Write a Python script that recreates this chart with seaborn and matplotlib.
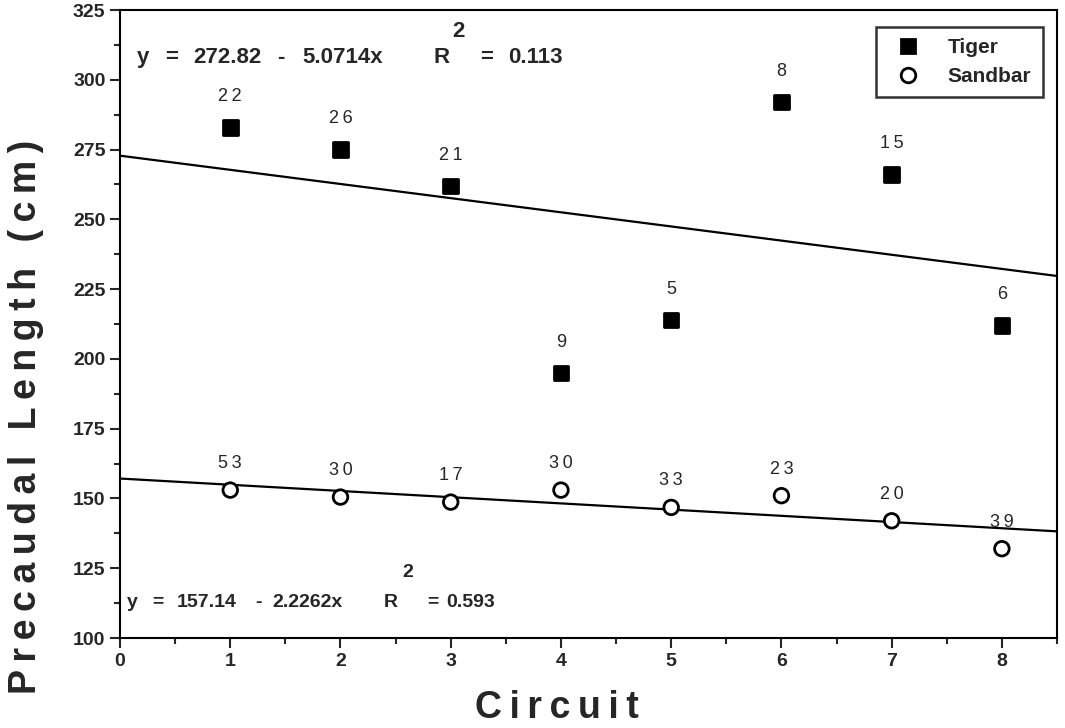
import matplotlib
matplotlib.use("Agg")
import matplotlib.pyplot as plt
from matplotlib.ticker import MultipleLocator
import numpy as np
import pandas as pd
import seaborn as sns

circuits = [1, 2, 3, 4, 5, 6, 7, 8]
tiger_len = [283, 275, 262, 195, 214, 292, 266, 212]
tiger_n = [22, 26, 21, 9, 5, 8, 15, 6]
sandbar_len = [153, 150.5, 148.7, 153, 146.8, 151, 142, 132]
sandbar_n = [53, 30, 17, 30, 33, 23, 20, 39]

tiger_fit = (272.82, -5.0714, 0.113)
sandbar_fit = (157.14, -2.2262, 0.593)

sns.set_theme(style="ticks")
plt.rcParams['font.family'] = ['Liberation Sans', 'DejaVu Sans']

df = pd.DataFrame({
    "Circuit": circuits * 2,
    "Length": tiger_len + sandbar_len,
    "Species": ["Tiger"] * 8 + ["Sandbar"] * 8,
})

fig = plt.figure(figsize=(10.65, 7.28), dpi=100)
ax = fig.add_axes([0.1127, 0.1236, 0.8798, 0.8626])

xs = np.array([0.0, 8.5])
for b0, b1, _ in (tiger_fit, sandbar_fit):
    sns.lineplot(x=xs, y=b0 + b1 * xs, ax=ax, color="black", linewidth=1.6)

sns.scatterplot(data=df, x="Circuit", y="Length", hue="Species", style="Species",
                markers={"Tiger": "s", "Sandbar": "o"},
                palette={"Tiger": "black", "Sandbar": "white"},
                s=110, edgecolor="black", linewidth=2, ax=ax, zorder=5)

TS = "\u2009"
def spaced(s):
    return TS.join(s)

for x, y, n in zip(circuits, tiger_len, tiger_n):
    ax.text(x, y + 8, spaced(str(n)), ha="center", va="bottom", fontsize=13)
for x, y, n in zip(circuits, sandbar_len, sandbar_n):
    ax.text(x, y + 6.5, spaced(str(n)), ha="center", va="bottom", fontsize=13)

ax.set_xlim(0, 8.5)
ax.set_ylim(100, 325)
ax.xaxis.set_major_locator(MultipleLocator(1))
ax.xaxis.set_minor_locator(MultipleLocator(0.5))
ax.yaxis.set_major_locator(MultipleLocator(25))
ax.yaxis.set_minor_locator(MultipleLocator(12.5))
ax.tick_params(which="major", length=7, width=1.5, labelsize=14)
ax.tick_params(which="minor", length=4, width=1.5)
for lab in ax.get_xticklabels() + ax.get_yticklabels():
    lab.set_fontweight("bold")
for sp in ax.spines.values():
    sp.set_linewidth(1.5)
    sp.set_color("black")

ax.set_xlabel(spaced("Circuit"), fontsize=27, fontweight="bold")
ax.xaxis.set_label_coords(0.466, -0.082)
ax.set_ylabel(spaced("Precaudal Length (cm)"), fontsize=27, fontweight="bold")
ax.yaxis.set_label_coords(-0.081, 0.352)

def put(tokens, y, ysup, size):
    for x, s in tokens:
        yy = ysup if s == "2" else y
        ax.text(x, yy, s, fontsize=size, fontweight="bold", ha="left", va="center")

put([(0.155, "y"), (0.41, "="), (0.664, "%.2f" % tiger_fit[0]), (1.427, "-"),
     (1.655, "%.4fx" % -tiger_fit[1]), (2.845, "R"), (3.018, "2"), (3.27, "="),
     (3.518, "%.3f" % tiger_fit[2])], 308, 317.2, 16)
put([(0.064, "y"), (0.291, "="), (0.518, "%.2f" % sandbar_fit[0]), (1.227, "-"),
     (1.382, "%.4fx" % -sandbar_fit[1]), (2.39, "R"), (2.564, "2"), (2.79, "="),
     (2.955, "%.3f" % sandbar_fit[2])], 112.9, 123.3, 14)

leg = ax.legend(loc="upper right", bbox_to_anchor=(0.985, 0.973), fontsize=15,
                frameon=True, fancybox=False, edgecolor="black", borderpad=0.55,
                borderaxespad=0, handletextpad=0.9, labelspacing=0.45,
                markerscale=1.0)
leg.get_frame().set_linewidth(1.8)
for t in leg.get_texts():
    t.set_fontweight("bold")

fig.savefig("out.png", dpi=100)
